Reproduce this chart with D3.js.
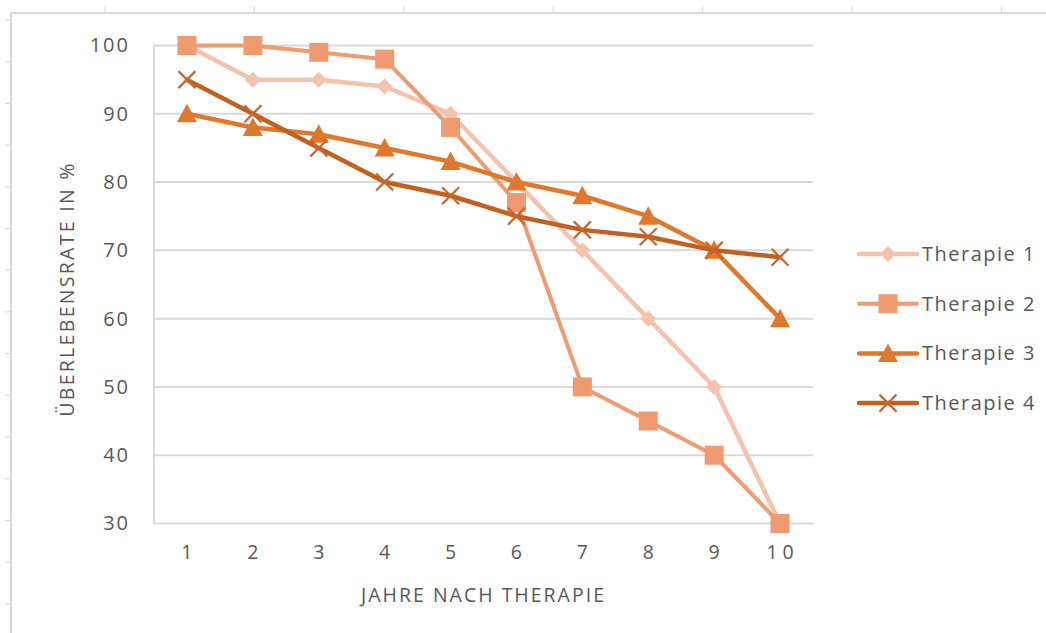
<!DOCTYPE html>
<html>
<head>
<meta charset="utf-8">
<script src="https://cdn.jsdelivr.net/npm/d3@7"></script>
<style>
  html, body { margin: 0; padding: 0; background: #fff; }
  svg { display: block; font-family: "Open Sans", "Segoe UI", sans-serif; }
</style>
</head>
<body>
<svg id="chart" width="1046" height="633"></svg>
<script>
// Jahre nach Therapie (Kategorien der x-Achse)
const years = ["1", "2", "3", "4", "5", "6", "7", "8", "9", "10"];

// Überlebensrate in % je Therapie
const therapie1 = [100, 95, 95, 94, 90, 80, 70, 60, 50, 30];
const therapie2 = [100, 100, 99, 98, 88, 77, 50, 45, 40, 30];
const therapie3 = [90, 88, 87, 85, 83, 80, 78, 75, 70, 60];
const therapie4 = [95, 90, 85, 80, 78, 75, 73, 72, 70, 69];

const seriesNames = ["Therapie 1", "Therapie 2", "Therapie 3", "Therapie 4"];
const yTicks = [30, 40, 50, 60, 70, 80, 90, 100];

const series = [
  { name: seriesNames[0], values: therapie1, color: "#F5C3AD", marker: "diamond", width: 4.5 },
  { name: seriesNames[1], values: therapie2, color: "#F09A70", marker: "square", width: 4 },
  { name: seriesNames[2], values: therapie3, color: "#E0782C", marker: "triangle", width: 4.5 },
  { name: seriesNames[3], values: therapie4, color: "#C2611F", marker: "cross", width: 4.5 }
];

const svg = d3.select("#chart");
const grey = "#D9D9D9";
const textGrey = "#595959";

// Sheet frame: top ruler and left ruler with small tick marks
const frame = svg.append("g");
frame.append("line").attr("x1", 11).attr("x2", 1046).attr("y1", 13).attr("y2", 13)
  .attr("stroke", grey).attr("stroke-width", 2);
frame.append("line").attr("x1", 11).attr("x2", 11).attr("y1", 13).attr("y2", 633)
  .attr("stroke", grey).attr("stroke-width", 2);
frame.selectAll(".tx").data(d3.range(105, 1046, 149.4)).join("line")
  .attr("x1", d => d).attr("x2", d => d).attr("y1", 6).attr("y2", 13)
  .attr("stroke", grey).attr("stroke-width", 1);
frame.selectAll(".ty").data(d3.range(20, 633, 41.7)).join("line")
  .attr("x1", 5).attr("x2", 11).attr("y1", d => d).attr("y2", d => d)
  .attr("stroke", grey).attr("stroke-width", 1);

// Plot area
const plot = { left: 154, right: 813, top: 45.5, bottom: 523.5 };

const x = d3.scaleBand().domain(years).range([plot.left, plot.right]);
const y = d3.scaleLinear().domain([30, 100]).range([plot.bottom, plot.top]);
const cx = d => x(d) + x.bandwidth() / 2;

// Horizontal gridlines
svg.append("g").selectAll("line").data(yTicks).join("line")
  .attr("x1", plot.left).attr("x2", plot.right)
  .attr("y1", d => y(d)).attr("y2", d => y(d))
  .attr("stroke", grey).attr("stroke-width", 2);

// Vertical axis line
svg.append("line").attr("x1", plot.left).attr("x2", plot.left)
  .attr("y1", plot.top).attr("y2", plot.bottom)
  .attr("stroke", grey).attr("stroke-width", 2);

// Y axis tick labels
const yAxis = svg.append("g").attr("transform", `translate(${plot.left - 24},0)`)
  .call(d3.axisLeft(y).tickValues(yTicks).tickSize(0).tickPadding(0));
yAxis.select(".domain").remove();
yAxis.selectAll("text").attr("fill", textGrey).attr("font-size", 20)
  .attr("letter-spacing", "2px")
  .attr("font-family", "'Open Sans', sans-serif");

// X axis tick labels
const xAxis = svg.append("g").attr("transform", `translate(0,${plot.bottom + 22})`)
  .call(d3.axisBottom(x).tickSize(0).tickPadding(0));
xAxis.select(".domain").remove();
xAxis.selectAll("text").attr("fill", textGrey).attr("font-size", 19.5)
  .attr("font-family", "'Open Sans', sans-serif")
  .attr("letter-spacing", d => d === "10" ? "5px" : null)
  .attr("dx", d => d === "10" ? "2.5px" : null);

// Axis titles
svg.append("text").attr("x", (plot.left + plot.right) / 2).attr("y", 602)
  .attr("text-anchor", "middle").attr("fill", textGrey).attr("font-size", 19.5)
  .attr("letter-spacing", "2px")
  .text("JAHRE NACH THERAPIE");
svg.append("text").attr("transform", `translate(74,289) rotate(-90)`)
  .attr("text-anchor", "middle").attr("fill", textGrey).attr("font-size", 19.5)
  .attr("letter-spacing", "2.3px")
  .text("ÜBERLEBENSRATE IN %");

// Marker shapes
function drawMarker(g, type, color) {
  if (type === "square") {
    g.append("rect").attr("x", -9.5).attr("y", -9.5).attr("width", 19).attr("height", 19).attr("fill", color);
  } else if (type === "diamond") {
    g.append("path").attr("d", "M0,-8L8,0L0,8L-8,0Z").attr("fill", color);
  } else if (type === "triangle") {
    g.append("path").attr("d", "M0,-10L10,8.5L-10,8.5Z").attr("fill", color);
  } else if (type === "cross") {
    g.append("path").attr("d", "M-8.5,-8.5L8.5,8.5M8.5,-8.5L-8.5,8.5")
      .attr("stroke", color).attr("stroke-width", 2.2).attr("fill", "none");
  }
}

const line = d3.line().x((d, i) => cx(years[i])).y(d => y(d));

series.forEach(s => {
  const g = svg.append("g");
  g.append("path").datum(s.values).attr("d", line)
    .attr("fill", "none").attr("stroke", s.color).attr("stroke-width", s.width)
    .attr("stroke-linejoin", "round").attr("stroke-linecap", "round");
  g.selectAll(".m").data(s.values).join("g")
    .attr("transform", (d, i) => `translate(${cx(years[i])},${y(d)})`)
    .each(function () { drawMarker(d3.select(this), s.marker, s.marker === "cross" ? "#C8662A" : s.color); });
});

// Legend
const legend = svg.append("g");
series.forEach((s, i) => {
  const ly = 254 + i * 49.7;
  const g = legend.append("g").attr("transform", `translate(888,${ly})`);
  g.append("line").attr("x1", -29).attr("x2", 29).attr("y1", 0).attr("y2", 0)
    .attr("stroke", s.color).attr("stroke-width", s.width).attr("stroke-linecap", "round");
  drawMarker(g, s.marker, s.marker === "cross" ? "#C8662A" : s.color);
  g.append("text").attr("x", 34).attr("y", 0).attr("dy", "0.35em")
    .attr("fill", textGrey).attr("font-size", 20).attr("letter-spacing", "1.5px").text(s.name);
});
</script>
</body>
</html>
